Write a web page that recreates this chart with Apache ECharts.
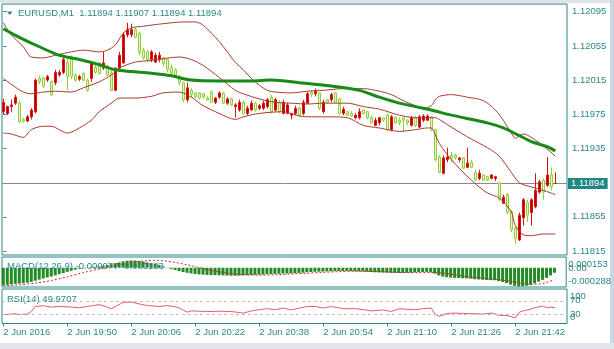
<!DOCTYPE html>
<html><head><meta charset="utf-8">
<script src="https://cdn.jsdelivr.net/npm/echarts@6/dist/echarts.min.js"></script>
<style>html,body{margin:0;padding:0;background:#fff;overflow:hidden}#c{width:614px;height:349px}</style>
</head><body><div id="c"></div>
<script>
// ---------- data ----------
const symbolName = 'EURUSD,M1';
const headerPrices = ['1.11894', '1.11907', '1.11894', '1.11894'];
const macdHeader = ['-0.000077', '-0.000183'];
const rsiHeader = '49.9707';
const timeLabels = ['2 Jun 2016', '2 Jun 19:50', '2 Jun 20:06', '2 Jun 20:22', '2 Jun 20:38', '2 Jun 20:54', '2 Jun 21:10', '2 Jun 21:26', '2 Jun 21:42'];
const barsPerLabel = 16;
const priceTicks = [1.11815, 1.11855, 1.11935, 1.11975, 1.12015, 1.12055, 1.12095];
const lastPrice = 1.11894;
const macdTicks = [0.000153, 0, -0.000288];
const macdTickText = ['0.000153', '0.00', '-0.000288'];
const rsiTicks = [100, 70, 30, 0];
const rsiLevels = [70, 30];

const opens = [
1.11978,1.11976,1.11984,1.11988,1.11988,1.11969,1.11967,1.11972,1.11978,1.12017,
1.12017,1.12015,1.12013,1.12012,1.12021,1.12024,1.12036,1.12042,1.12021,1.12016,
1.12023,1.12015,1.12017,1.12030,1.12035,1.12029,1.12030,1.12023,1.12003,1.12029,
1.12035,1.12068,1.12068,1.12074,1.12070,1.12050,1.12048,1.12039,1.12036,1.12039,
1.12041,1.12039,1.12030,1.12027,1.12019,1.12012,1.11992,1.12003,1.12000,1.12000,
1.11999,1.11994,1.12001,1.11989,1.11995,1.12000,1.11988,1.11993,1.11984,1.11980,
1.11989,1.11976,1.11980,1.11988,1.11982,1.11982,1.11984,1.11995,1.11980,1.11989,
1.11976,1.11976,1.11974,1.11976,1.11982,1.11976,1.11988,1.12001,1.11999,1.12000,
1.11978,1.11992,1.11992,1.12000,1.11993,1.11976,1.11978,1.11976,1.11971,1.11971,
1.11980,1.11978,1.11971,1.11962,1.11965,1.11971,1.11974,1.11957,1.11971,1.11968,
1.11971,1.11968,1.11962,1.11971,1.11960,1.11968,1.11968,1.11972,1.11957,1.11925,
1.11906,1.11922,1.11927,1.11927,1.11922,1.11924,1.11913,1.11919,1.11907,1.11900,
1.11904,1.11902,1.11900,1.11900,1.11895,1.11871,1.11881,1.11861,1.11842,1.11828,
1.11854,1.11872,1.11860,1.11867,1.11884,1.11898,1.11892,1.11904,1.11894];
const closes = [
1.11989,1.11984,1.11986,1.11995,1.11966,1.11967,1.11972,1.11980,1.12015,1.12013,
1.12008,1.12019,1.11998,1.12024,1.12024,1.12039,1.12019,1.12019,1.12015,1.12019,
1.12015,1.12003,1.12035,1.12024,1.12023,1.12035,1.12021,1.12003,1.12029,1.12044,
1.12068,1.12074,1.12074,1.12065,1.12047,1.12041,1.12039,1.12048,1.12044,1.12044,
1.12034,1.12027,1.12023,1.12021,1.12012,1.11992,1.12006,1.11998,1.11996,1.11994,
1.11995,1.11992,1.11989,1.11994,1.12000,1.11988,1.11993,1.11986,1.11986,1.11989,
1.11976,1.11982,1.11988,1.11980,1.11985,1.11988,1.11992,1.11978,1.11992,1.11978,
1.11989,1.11986,1.11976,1.11982,1.11974,1.11989,1.11999,1.11998,1.12002,1.11982,
1.11989,1.11989,1.11998,1.11989,1.11976,1.11981,1.11974,1.11973,1.11974,1.11978,
1.11976,1.11971,1.11965,1.11968,1.11971,1.11968,1.11957,1.11972,1.11965,1.11965,
1.11968,1.11965,1.11971,1.11962,1.11972,1.11973,1.11973,1.11957,1.11922,1.11907,
1.11924,1.11925,1.11924,1.11924,1.11924,1.11912,1.11918,1.11913,1.11898,1.11906,
1.11898,1.11898,1.11904,1.11902,1.11875,1.11878,1.11860,1.11840,1.11830,1.11857,
1.11875,1.11857,1.11875,1.11886,1.11896,1.11884,1.11904,1.11890,1.11894];
const lows = [
1.11975,1.11974,1.11978,1.11986,1.11965,1.11965,1.11966,1.11969,1.11976,1.12010,
1.12006,1.12013,1.11996,1.12009,1.12019,1.12022,1.12003,1.12016,1.12013,1.12014,
1.12013,1.12001,1.12013,1.12022,1.12021,1.12027,1.12020,1.12002,1.12002,1.12027,
1.12034,1.12065,1.12065,1.12064,1.12044,1.12039,1.12036,1.12036,1.12035,1.12036,
1.12031,1.12024,1.12021,1.12019,1.12009,1.11989,1.11989,1.11995,1.11994,1.11992,
1.11993,1.11991,1.11988,1.11987,1.11993,1.11987,1.11986,1.11985,1.11971,1.11978,
1.11975,1.11974,1.11979,1.11978,1.11980,1.11980,1.11982,1.11976,1.11978,1.11976,
1.11975,1.11975,1.11969,1.11974,1.11972,1.11974,1.11987,1.11995,1.11996,1.11980,
1.11976,1.11988,1.11989,1.11988,1.11975,1.11974,1.11973,1.11972,1.11969,1.11969,
1.11975,1.11969,1.11964,1.11961,1.11962,1.11966,1.11955,1.11955,1.11964,1.11962,
1.11954,1.11962,1.11961,1.11960,1.11959,1.11966,1.11967,1.11955,1.11920,1.11906,
1.11905,1.11919,1.11919,1.11922,1.11919,1.11911,1.11912,1.11912,1.11897,1.11898,
1.11897,1.11897,1.11899,1.11897,1.11874,1.11870,1.11858,1.11837,1.11824,1.11827,
1.11845,1.11849,1.11845,1.11865,1.11882,1.11875,1.11890,1.11886,1.11894];
const highs = [
1.11993,1.11985,1.11992,1.11998,1.11991,1.11971,1.11974,1.11982,1.12017,1.12020,
1.12019,1.12021,1.12015,1.12027,1.12027,1.12041,1.12039,1.12044,1.12023,1.12021,
1.12024,1.12017,1.12036,1.12033,1.12036,1.12048,1.12033,1.12026,1.12030,1.12048,
1.12071,1.12082,1.12081,1.12076,1.12072,1.12053,1.12050,1.12050,1.12047,1.12048,
1.12042,1.12040,1.12033,1.12029,1.12021,1.12013,1.12012,1.12006,1.12001,1.12001,
1.12000,1.11996,1.12003,1.11995,1.12002,1.12001,1.11995,1.11994,1.11988,1.11992,
1.11991,1.11985,1.11991,1.11989,1.11987,1.11991,1.11994,1.11998,1.11994,1.11992,
1.11992,1.11988,1.11976,1.11985,1.11984,1.11992,1.12001,1.12003,1.12005,1.12001,
1.11992,1.11993,1.12000,1.12001,1.11994,1.11984,1.11979,1.11979,1.11976,1.11982,
1.11981,1.11979,1.11973,1.11971,1.11972,1.11971,1.11976,1.11974,1.11973,1.11971,
1.11971,1.11969,1.11973,1.11973,1.11974,1.11975,1.11975,1.11973,1.11958,1.11927,
1.11927,1.11936,1.11931,1.11929,1.11925,1.11925,1.11936,1.11922,1.11910,1.11910,
1.11905,1.11903,1.11905,1.11903,1.11896,1.11881,1.11883,1.11863,1.11844,1.11860,
1.11877,1.11875,1.11877,1.11906,1.11898,1.11900,1.11925,1.11913,1.11907];

// moving average and Bollinger bands, read at sample bars: [bar, price]
const maPoints = [[0,1.12075],[4,1.12065],[9,1.12054],[14,1.12044],[19,1.12039],[24,1.12033],[28,1.12027],[32,1.12025],[37,1.12023],[42,1.12020],[47,1.12015],[54,1.12014],[62,1.12014],[67,1.12015],[74,1.12012],[82,1.12008],[89,1.12003],[94,1.11995],[99,1.11988],[104,1.11983],[107,1.11980],[112,1.11974],[121,1.11965],[125,1.11959],[129,1.11950],[132,1.11943],[136,1.11937],[138,1.11932]];
const bbUpper = [[0,1.12082],[2,1.12068],[5,1.12054],[7,1.12042],[10,1.12041],[13,1.12044],[17,1.12048],[20,1.12050],[24,1.12048],[26,1.12050],[28,1.12056],[30,1.12070],[32,1.12076],[35,1.12078],[40,1.12081],[45,1.12083],[48,1.12083],[50,1.12079],[52,1.12070],[54,1.12060],[56,1.12048],[58,1.12036],[60,1.12027],[62,1.12017],[64,1.12009],[66,1.12003],[68,1.12001],[72,1.12000],[76,1.12002],[80,1.12003],[85,1.12005],[90,1.12005],[94,1.12002],[97,1.11998],[100,1.11991],[103,1.11985],[105,1.11982],[107,1.11985],[108,1.11992],[109,1.11996],[112,1.11998],[116,1.11995],[120,1.11991],[123,1.11980],[125,1.11968],[127,1.11953],[128,1.11947],[129,1.11950],[130,1.11952],[132,1.11948],[135,1.11938],[138,1.11926]];
const bbMiddle = [[0,1.12017],[2,1.12010],[5,1.12001],[7,1.11999],[10,1.12001],[13,1.12002],[17,1.12001],[20,1.12006],[24,1.12013],[27,1.12021],[29,1.12029],[33,1.12036],[37,1.12038],[40,1.12040],[44,1.12042],[47,1.12039],[50,1.12032],[54,1.12018],[58,1.12003],[60,1.11999],[64,1.11993],[68,1.11989],[72,1.11988],[76,1.11987],[80,1.11988],[86,1.11988],[90,1.11984],[94,1.11981],[99,1.11974],[103,1.11971],[106,1.11971],[108,1.11971],[109,1.11969],[112,1.11960],[117,1.11946],[121,1.11936],[124,1.11926],[127,1.11907],[129,1.11895],[132,1.11890],[135,1.11886],[138,1.11881]];
const bbLower = [[0,1.11953],[2,1.11952],[5,1.11948],[7,1.11957],[10,1.11961],[12,1.11961],[14,1.11957],[16,1.11953],[19,1.11959],[22,1.11968],[24,1.11978],[27,1.11988],[29,1.11994],[33,1.11994],[37,1.11996],[40,1.12000],[44,1.12001],[47,1.11995],[50,1.11985],[54,1.11976],[58,1.11969],[60,1.11972],[64,1.11976],[70,1.11978],[74,1.11973],[77,1.11972],[82,1.11972],[86,1.11971],[90,1.11962],[94,1.11959],[99,1.11955],[103,1.11957],[106,1.11959],[107,1.11959],[108,1.11951],[109,1.11941],[112,1.11922],[117,1.11898],[121,1.11883],[124,1.11877],[127,1.11861],[128,1.11845],[130,1.11834],[132,1.11833],[135,1.11835],[138,1.11835]];

const macdMain = [
-0.000268,-0.000262,-0.000256,-0.000248,-0.000244,-0.000238,-0.000230,-0.000218,-0.000200,-0.000182,
-0.000165,-0.000150,-0.000136,-0.000118,-0.000100,-0.000082,-0.000064,-0.000046,-0.000030,-0.000014,
-0.000004,0.000004,0.000010,0.000014,0.000020,0.000030,0.000042,0.000054,0.000068,0.000082,
0.000098,0.000108,0.000112,0.000110,0.000104,0.000094,0.000082,0.000070,0.000056,0.000040,
0.000020,0.000002,-0.000018,-0.000034,-0.000050,-0.000066,-0.000078,-0.000088,-0.000096,-0.000102,
-0.000106,-0.000110,-0.000112,-0.000114,-0.000116,-0.000118,-0.000120,-0.000122,-0.000122,-0.000120,
-0.000118,-0.000116,-0.000112,-0.000110,-0.000106,-0.000104,-0.000100,-0.000098,-0.000094,-0.000092,
-0.000090,-0.000088,-0.000086,-0.000084,-0.000080,-0.000076,-0.000070,-0.000066,-0.000062,-0.000060,
-0.000058,-0.000056,-0.000054,-0.000052,-0.000050,-0.000050,-0.000050,-0.000052,-0.000054,-0.000056,
-0.000058,-0.000062,-0.000066,-0.000070,-0.000072,-0.000074,-0.000076,-0.000078,-0.000080,-0.000080,
-0.000080,-0.000078,-0.000076,-0.000072,-0.000068,-0.000066,-0.000064,-0.000070,-0.000090,-0.000118,
-0.000136,-0.000146,-0.000152,-0.000156,-0.000158,-0.000162,-0.000164,-0.000168,-0.000176,-0.000180,
-0.000184,-0.000188,-0.000190,-0.000192,-0.000204,-0.000218,-0.000236,-0.000258,-0.000278,-0.000288,
-0.000284,-0.000276,-0.000262,-0.000240,-0.000214,-0.000186,-0.000156,-0.000118,-0.000077];
const macdSignal = [[0,-0.000276],[4,-0.000262],[8,-0.000236],[12,-0.000196],[16,-0.000140],[20,-0.000075],[24,-0.000020],[28,0.000030],[32,0.000080],[36,0.000108],[38,0.000114],[40,0.000106],[43,0.000082],[46,0.000045],[49,0.000002],[52,-0.000040],[56,-0.000082],[60,-0.000106],[64,-0.000114],[68,-0.000108],[72,-0.000096],[76,-0.000084],[80,-0.000070],[84,-0.000060],[88,-0.000054],[92,-0.000056],[96,-0.000064],[100,-0.000074],[104,-0.000076],[107,-0.000072],[110,-0.000084],[113,-0.000108],[116,-0.000136],[120,-0.000162],[124,-0.000184],[127,-0.000208],[130,-0.000240],[132,-0.000254],[134,-0.000250],[136,-0.000226],[138,-0.000183]];
const rsiPoints = [[0,28],[2,30],[3,31],[4,28],[6,30],[7,38],[8,54],[10,56],[12,52],[14,54],[16,53],[19,50],[22,56],[24,60],[26,52],[27,47],[28,54],[30,67],[32,68],[34,62],[36,57],[38,55],[39,54],[41,57],[43,53],[44,49],[46,36],[47,40],[49,39],[51,38],[54,39],[57,38],[60,33],[62,40],[64,44],[66,47],[68,44],[70,49],[72,43],[74,49],[76,54],[78,54],[80,49],[82,54],[85,47],[88,47],[90,44],[92,40],[95,43],[97,38],[99,47],[101,45],[103,44],[105,47],[107,49],[108,28],[109,23],[111,32],[113,33],[115,32],[117,31],[120,30],[122,33],[124,26],[126,25],[128,18],[129,36],[130,40],[132,46],[133,51],[135,55],[136,50],[137,52],[138,50]];

// ---------- chart ----------
const TEAL = '#2b8787';
const FONT = 'Liberation Sans';
const FS = 9.5;
const X_MIN = -0.325, X_MAX = 140.925;
const candleData = opens.map((o, i) => [i, o, closes[i], lows[i], highs[i]]);
const macdData = macdMain.map((v, i) => [i, v]);
const timeTickIdx = timeLabels.map((t, k) => k * barsPerLabel);

const txt = { color: TEAL, fontSize: FS, fontFamily: FONT };
// label pads (to mimic the inward shift of edge labels in the indicator windows)
const macdPad = [[13, 0, 0, 0], [2, 0, 0, 0], [0, 0, 11, 0]];
const rsiPad = [[9, 0, 0, 0], [0, 0, 3, 0], [0, 0, 0, 0], [0, 0, 12, 0]];

function labelAxis(gridIndex, min, max, values, texts, pads, margin) {
  const rich = {};
  values.forEach((v, k) => { rich['p' + k] = Object.assign({ padding: pads[k] }, txt); });
  return { type: 'value', gridIndex, position: 'right', min, max,
    axisLine: { show: false }, splitLine: { show: false }, axisTick: { show: false },
    axisLabel: Object.assign({ customValues: values, margin, showMinLabel: true, showMaxLabel: true,
      formatter: v => { const k = values.findIndex(t => Math.abs(t - v) < 1e-9); return k < 0 ? '' : '{p' + k + '|' + texts[k] + '}'; },
      rich }, txt) };
}
const MACD_MIN = -0.000296, MACD_MAX = 0.000165, RSI_MIN = 0, RSI_MAX = 109.5;

const option = {
  animation: false,
  backgroundColor: '#ffffff',
  title: [
    { text: symbolName + '  ' + headerPrices.join(' '), left: 18, top: 8, padding: 0, textStyle: Object.assign({ fontWeight: 'normal', lineHeight: 11 }, txt) },
    { text: 'MACD(12,26,9) ' + macdHeader.join(' '), left: 7, top: 260.5, padding: 0, textStyle: Object.assign({ fontWeight: 'normal', lineHeight: 11 }, txt) },
    { text: 'RSI(14) ' + rsiHeader, left: 7, top: 293.5, padding: 0, textStyle: Object.assign({ fontWeight: 'normal', lineHeight: 11 }, txt) }
  ],
  graphic: [
    { type: 'rect', shape: { x: 0, y: 0, width: 614, height: 3 }, style: { fill: '#dfe2e7' }, silent: true },
    { type: 'rect', shape: { x: 610, y: 0, width: 4, height: 349 }, style: { fill: '#c9d6e4' }, silent: true },
    { type: 'rect', shape: { x: 0, y: 343, width: 614, height: 6 }, style: { fill: '#e3e6eb' }, silent: true },
    { type: 'polygon', shape: { points: [[7, 11.5], [12.5, 11.5], [9.75, 15]] }, style: { fill: TEAL }, silent: true }
  ],
  grid: [
    { left: 2, top: 4, width: 565, height: 251, show: true, borderColor: TEAL, borderWidth: 1, backgroundColor: '#fff' },
    { left: 2, top: 257, width: 565, height: 30, show: true, borderColor: TEAL, borderWidth: 1, backgroundColor: '#fff' },
    { left: 2, top: 289, width: 565, height: 34.5, show: true, borderColor: TEAL, borderWidth: 1, backgroundColor: '#fff' }
  ],
  xAxis: [
    { type: 'value', gridIndex: 0, min: X_MIN, max: X_MAX, show: false },
    { type: 'value', gridIndex: 1, min: X_MIN, max: X_MAX, show: false },
    { type: 'value', gridIndex: 2, min: X_MIN, max: X_MAX,
      axisLine: { show: false }, splitLine: { show: false },
      axisTick: { show: true, customValues: timeTickIdx, length: 3, lineStyle: { color: TEAL } },
      axisLabel: Object.assign({ customValues: timeTickIdx, align: 'left', margin: 4, showMinLabel: true, showMaxLabel: true,
        formatter: v => timeLabels[Math.round(v / barsPerLabel)] || '' }, txt) }
  ],
  yAxis: [
    { type: 'value', gridIndex: 0, position: 'right', min: 1.118104, max: 1.121040,
      axisLine: { show: false }, splitLine: { show: false },
      axisTick: { show: true, customValues: priceTicks, length: 3, lineStyle: { color: TEAL } },
      axisLabel: Object.assign({ customValues: priceTicks, margin: 5, showMinLabel: true, showMaxLabel: true, formatter: v => v.toFixed(5) }, txt) },
    // MACD window: edge labels on one axis, zero label on another (they overlap, as in the original)
    labelAxis(1, MACD_MIN, MACD_MAX, [macdTicks[0], macdTicks[2]], [macdTickText[0], macdTickText[2]], [macdPad[0], macdPad[2]], 2),
    // RSI window: 100 & 30 on one axis, 70 & 0 on another
    labelAxis(2, RSI_MIN, RSI_MAX, [rsiTicks[0], rsiTicks[2]], [String(rsiTicks[0]), String(rsiTicks[2])], [rsiPad[0], rsiPad[2]], 3),
    labelAxis(1, MACD_MIN, MACD_MAX, [macdTicks[1]], [macdTickText[1]], [macdPad[1]], 2),
    labelAxis(2, RSI_MIN, RSI_MAX, [rsiTicks[1], rsiTicks[3]], [String(rsiTicks[1]), String(rsiTicks[3])], [rsiPad[1], rsiPad[3]], 3)
  ],
  series: [
    { type: 'candlestick', xAxisIndex: 0, yAxisIndex: 0, data: candleData, barWidth: 3, z: 2,
      itemStyle: { color: '#b00000', color0: '#e4f7c6', borderColor: '#dd1111', borderColor0: '#93cf3a', borderWidth: 1 } },
    { type: 'line', xAxisIndex: 0, yAxisIndex: 0, data: bbUpper, showSymbol: false, smooth: 0.3, z: 3, lineStyle: { color: '#a83a2c', width: 1 } },
    { type: 'line', xAxisIndex: 0, yAxisIndex: 0, data: bbMiddle, showSymbol: false, smooth: 0.3, z: 3, lineStyle: { color: '#a83a2c', width: 1 },
      markLine: { symbol: 'none', silent: true, precision: 5, z: 1, data: [{ yAxis: lastPrice }],
        lineStyle: { color: '#8a8a8a', type: 'solid', width: 1 },
        label: { show: true, position: 'end', distance: 1, formatter: () => lastPrice.toFixed(5),
          color: '#ffffff', backgroundColor: '#1f8585', padding: [1, 3, 0, 3], fontSize: FS, fontFamily: FONT } } },
    { type: 'line', xAxisIndex: 0, yAxisIndex: 0, data: bbLower, showSymbol: false, smooth: 0.3, z: 3, lineStyle: { color: '#a83a2c', width: 1 } },
    { type: 'line', xAxisIndex: 0, yAxisIndex: 0, data: maPoints, showSymbol: false, smooth: 0.3, z: 4, lineStyle: { color: '#178a17', width: 3 } },
    { type: 'bar', xAxisIndex: 1, yAxisIndex: 1, data: macdData, barWidth: 3, itemStyle: { color: '#238b23' } },
    { type: 'line', xAxisIndex: 1, yAxisIndex: 1, data: macdSignal, showSymbol: false, smooth: 0.3, z: 4, lineStyle: { color: '#dd2020', width: 1, type: [2, 2] } },
    { type: 'line', xAxisIndex: 2, yAxisIndex: 2, data: rsiPoints, showSymbol: false, z: 4, lineStyle: { color: '#e06060', width: 1 },
      markLine: { symbol: 'none', silent: true, label: { show: false }, lineStyle: { color: '#c4b8b8', type: [3, 3], width: 1 },
        data: rsiLevels.map(v => ({ yAxis: v })) } }
  ]
};
const chart = echarts.init(document.getElementById('c'));
chart.setOption(option);
</script></body></html>
